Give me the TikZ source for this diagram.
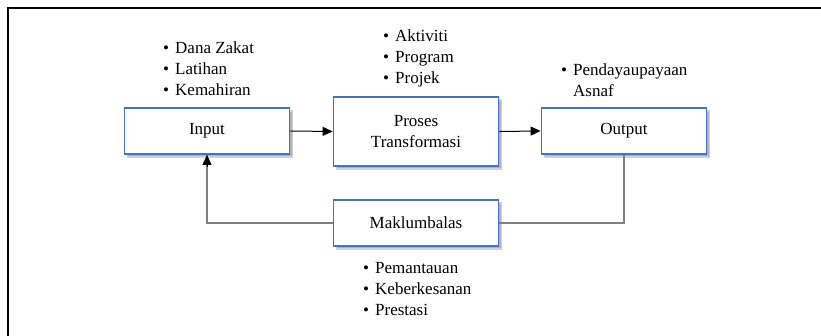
\documentclass[tikz,border=0pt]{standalone}
\usepackage{fontspec}
\setmainfont{Liberation Serif}
\newfontfamily\diagfont{Liberation Serif}
\usepackage{tikz}
\usetikzlibrary{positioning,arrows.meta}

\definecolor{boxblue}{HTML}{4472C4}
\definecolor{linegray}{HTML}{7F7F7F}

\newcommand{\bul}{\makebox[12pt][l]{\textbullet}}
\newcommand{\nobul}{\hspace*{12pt}}

\tikzset{
  stage/.style={draw=boxblue, line width=1.8pt, fill=white,
    minimum width=165pt, minimum height=46pt, inner sep=0pt, align=center,
    preaction={fill=black!30, draw=black!18, line width=1.5pt,
      transform canvas={xshift=3pt,yshift=-3pt}}},
  items/.style={anchor=west, align=left, inner sep=0pt},
  flow/.style={line width=1pt, -{Triangle[length=10pt,width=9pt]}},
  back/.style={line width=1.3pt, draw=linegray}
}

\begin{document}
\begin{tikzpicture}[x=1pt,y=1pt,font=\diagfont\fontsize{17}{21}\selectfont]
      \useasboundingbox (0,0) rectangle (821,336);
      \draw[line width=2.2pt] (8,0) -- (8,328) -- (821,328);
      % stages
      \draw (207,205) node[stage] (input) {Input};
      \draw (416,204.5) node[stage, minimum height=69pt] (proses) {Proses\\Transformasi};
      \draw (624,205) node[stage] (output) {Output};
      \draw (416,113) node[stage] (makl) {Maklumbalas};
      % lists
      \draw (163,267) node[items] (listin) {\bul Dana Zakat\\\bul Latihan\\\bul Kemahiran};
      \draw (383,278) node[items] (listpro) {\bul Aktiviti\\\bul Program\\\bul Projek};
      \draw (561,255.5) node[items] (listout) {\bul Pendayaupayaan\\\nobul Asnaf};
      \draw (363,47) node[items] (listmak) {\bul Pemantauan\\\bul Keberkesanan\\\bul Prestasi};
      % connectors
      \draw[flow] (input.east) to (proses.west);
      \draw[flow] (proses.east) to (output.west);
      \draw[back] (output.south) |- (makl.east);
      \draw[back] (makl.west) -| (input.south);
      \draw[flow] ([yshift=-12pt]input.south) to (input.south);
\end{tikzpicture}
\end{document}
